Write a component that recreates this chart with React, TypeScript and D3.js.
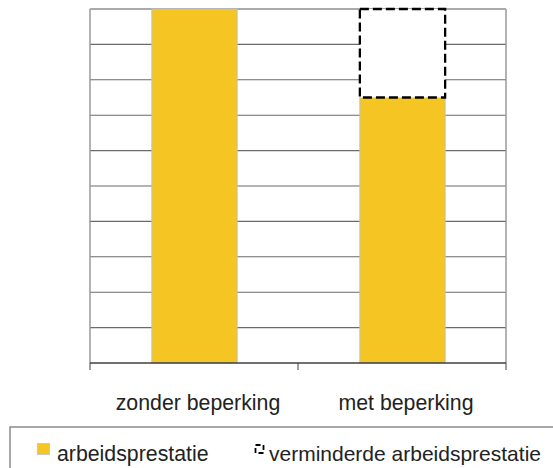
import React from "react";
import * as d3 from "d3";

const categories = ["zonder beperking", "met beperking"];
const arbeidsprestatie = [10, 7.5];
const verminderde = [0, 2.5];
const yTicks = [0, 1, 2, 3, 4, 5, 6, 7, 8, 9, 10];
const legendLabels = ["arbeidsprestatie", "verminderde arbeidsprestatie"];

const W = 553;
const H = 468;
const left = 90;
const right = 506;
const top = 9;
const bottom = 363;

export default function App() {
  const x = d3.scaleBand<string>().domain(categories).range([left, right]).padding(0);
  const y = d3.scaleLinear().domain([0, 10]).range([bottom, top]);
  const bw = x.bandwidth() * 0.41;
  const font = "'Liberation Sans', Arial, sans-serif";
  const boundaries = [left, ...categories.map((c) => (x(c) as number) + x.bandwidth())];

  return (
    <svg width={W} height={H} style={{ position: "absolute", left: 0, top: 0, background: "#fff" }}>
      <rect x={0} y={0} width={W} height={H} fill="#fff" />
      {/* gridlines */}
      {yTicks.filter((t) => t > 0).map((t) => (
        <line key={t} x1={left} x2={right} y1={y(t)} y2={y(t)} stroke="#6a6a6a" strokeWidth={1.1} />
      ))}
      {/* side borders */}
      <line x1={left} x2={left} y1={top} y2={bottom} stroke="#9a9a9a" strokeWidth={1.5} />
      <line x1={right} x2={right} y1={top} y2={bottom} stroke="#9a9a9a" strokeWidth={1.5} />
      <line x1={left} x2={right} y1={top} y2={top} stroke="#a0a0a0" strokeWidth={1.2} />
      {/* bars */}
      {categories.map((c, i) => {
        const cx = (x(c) as number) + x.bandwidth() / 2 + 0.5;
        const x0 = cx - bw / 2;
        const y1 = y(arbeidsprestatie[i]);
        const y2 = y(arbeidsprestatie[i] + verminderde[i]);
        return (
          <g key={c}>
            <rect x={x0} y={y1} width={bw} height={bottom - y1} fill="#F5C623" stroke="#c0c0c0" strokeWidth={1} />
            {verminderde[i] > 0 && (
              <rect x={x0} y={y2} width={bw} height={y1 - y2} fill="#fff" stroke="#000" strokeWidth={2.3} strokeDasharray="9,4" />
            )}
          </g>
        );
      })}
      {/* x axis */}
      <line x1={left} x2={right} y1={bottom} y2={bottom} stroke="#404040" strokeWidth={1.5} />
      {boundaries.map((b, i) => (
        <line key={i} x1={b} x2={b} y1={bottom} y2={bottom + 7} stroke="#404040" strokeWidth={1} />
      ))}
      {categories.map((c) => (
        <text key={c} x={(x(c) as number) + x.bandwidth() / 2 + 4} y={410} textAnchor="middle" fontFamily={font} fontSize={21.3} fill="#222">
          {c}
        </text>
      ))}
      {/* legend */}
      <rect x={10} y={427} width={600} height={80} fill="#fff" stroke="#8a8a8a" strokeWidth={1.5} />
      <rect x={37.5} y={443.5} width={12} height={11} fill="#F5C623" stroke="#c8c8c8" strokeWidth={1} />
      <text x={57} y={461} fontFamily={font} fontSize={21.3} fill="#222">{legendLabels[0]}</text>
      <rect x={255.5} y={445} width={8} height={8} fill="#fff" stroke="#000" strokeWidth={1.8} strokeDasharray="5,3" />
      <text x={269} y={461} fontFamily={font} fontSize={21} fill="#222">{legendLabels[1]}</text>
    </svg>
  );
}
